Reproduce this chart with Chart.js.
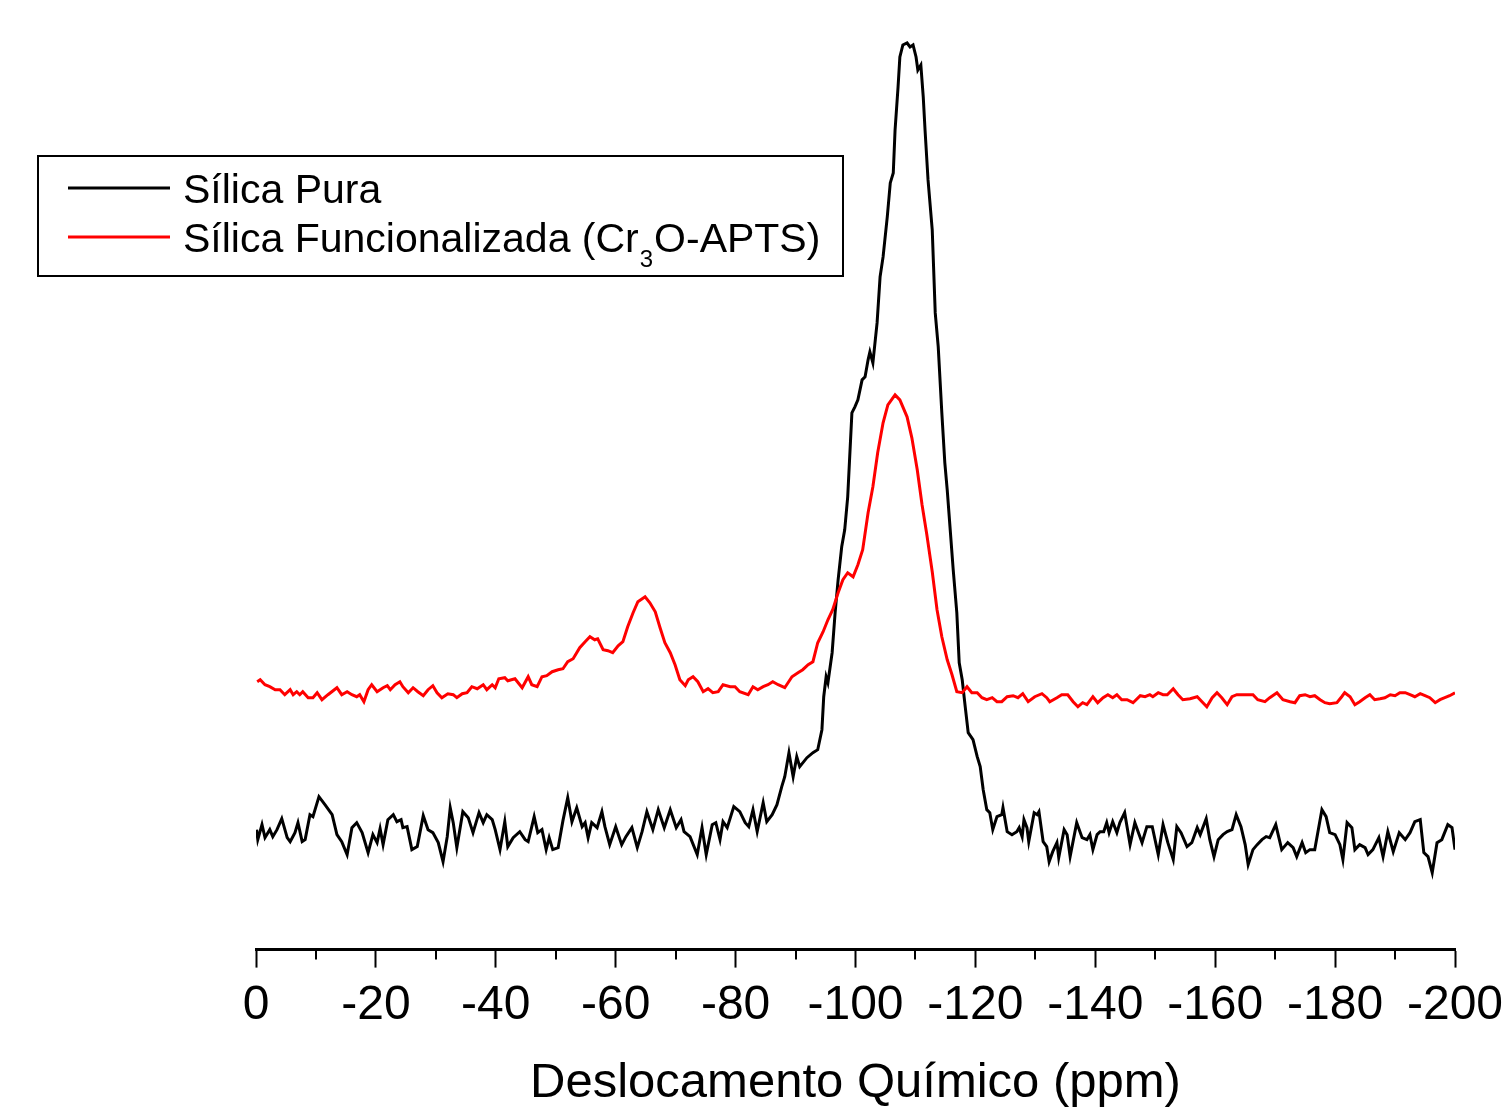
<!DOCTYPE html>
<html>
<head>
<meta charset="utf-8">
<script src="https://cdn.jsdelivr.net/npm/chart.js@4/dist/chart.umd.min.js"></script>
<style>
  html, body { margin: 0; padding: 0; background: #fff; }
  canvas { display: block; }
</style>
</head>
<body>
<canvas id="nmr-chart" width="1505" height="1113"></canvas>
<script>
const pureSilica = [
    [-0.1,12.0],[-0.3,11.0],[-1.0,12.5],[-1.5,11.2],[-2.3,12.0],[-2.8,11.3],[-3.5,12.0],[-4.3,13.1],[-5.2,11.2],[-5.7,10.8],
    [-6.5,11.7],[-7.0,12.7],[-7.7,10.8],[-8.2,11.0],[-9.0,13.5],[-9.5,13.3],[-10.5,15.3],[-11.5,14.5],[-12.7,13.5],[-13.5,11.5],
    [-14.3,10.8],[-15.2,9.5],[-16.0,12.2],[-16.8,12.7],[-17.7,11.7],[-18.7,9.7],[-19.5,11.5],[-20.2,10.7],[-20.7,12.1],[-21.2,10.5],
    [-22.0,13.0],[-22.9,13.5],[-23.5,12.8],[-24.2,13.0],[-24.5,12.2],[-25.2,12.3],[-26.0,10.0],[-26.9,10.3],[-27.9,13.4],[-28.7,12.0],
    [-29.5,11.7],[-30.4,10.7],[-31.2,8.8],[-31.9,11.3],[-32.4,14.2],[-32.9,12.7],[-33.5,10.2],[-34.5,13.8],[-35.4,13.2],[-36.2,11.7],
    [-37.2,13.7],[-37.9,12.7],[-38.5,13.5],[-39.4,13.0],[-39.9,12.0],[-40.7,10.0],[-41.5,12.8],[-42.0,10.3],[-42.9,11.2],[-44.0,11.8],
    [-44.9,11.0],[-45.4,10.8],[-46.4,13.3],[-47.0,11.7],[-47.7,12.0],[-48.4,10.0],[-48.9,11.2],[-49.5,10.0],[-50.4,10.2],[-51.2,12.9],
    [-52.0,15.2],[-52.7,12.8],[-53.5,14.2],[-54.4,12.3],[-54.9,12.7],[-55.4,11.2],[-56.0,12.7],[-56.9,12.2],[-57.7,13.8],[-58.2,12.3],
    [-59.0,10.5],[-60.0,12.3],[-61.0,10.5],[-61.7,11.3],[-62.7,12.2],[-63.6,10.2],[-64.4,11.8],[-65.2,13.8],[-66.2,12.0],[-67.1,14.0],
    [-68.1,12.2],[-69.1,14.0],[-70.1,12.2],[-70.9,13.0],[-71.4,11.8],[-72.4,11.3],[-73.6,9.5],[-74.4,12.2],[-75.1,9.5],[-76.1,12.5],
    [-76.7,12.7],[-77.4,11.0],[-77.9,12.8],[-78.6,12.2],[-79.7,14.3],[-80.7,13.8],[-81.6,12.7],[-82.2,12.3],[-82.9,14.0],[-83.6,11.8],
    [-84.6,14.7],[-85.2,12.8],[-86.1,13.5],[-86.9,14.5],[-87.7,16.3],[-88.2,17.3],[-88.9,19.7],[-89.6,17.3],[-90.2,19.3],[-90.7,18.3],
    [-91.9,19.2],[-92.9,19.7],[-93.7,20.0],[-94.4,22.0],[-94.7,25.3],[-95.1,27.3],[-95.4,26.7],[-96.1,29.7],[-96.6,33.7],[-97.1,37.0],
    [-97.7,40.3],[-98.2,42.0],[-98.7,45.3],[-99.4,53.7],[-99.9,54.3],[-100.4,55.0],[-101.1,57.0],[-101.6,57.3],[-102.1,59.0],[-102.4,59.8],
    [-102.9,58.7],[-103.6,62.7],[-104.1,67.3],[-104.6,69.3],[-105.3,73.3],[-105.8,76.7],[-106.3,77.7],[-106.6,82.0],[-107.1,86.3],[-107.4,89.3],
    [-107.9,90.5],[-108.6,90.7],[-109.1,90.3],[-109.6,90.5],[-110.1,89.3],[-110.4,88.0],[-110.9,88.5],[-111.3,85.3],[-111.6,82.0],[-112.1,77.0],
    [-112.8,72.0],[-113.3,63.7],[-113.8,60.3],[-114.4,53.7],[-114.9,48.7],[-115.3,46.0],[-115.8,42.0],[-116.3,38.0],[-116.9,33.7],[-117.3,28.7],
    [-117.8,27.0],[-118.3,24.3],[-118.8,21.7],[-119.6,21.0],[-120.3,19.3],[-120.8,18.3],[-121.3,16.0],[-121.9,14.0],[-122.4,13.7],[-122.9,12.0],
    [-123.6,13.3],[-124.4,13.5],[-124.6,14.2],[-125.3,11.8],[-126.1,11.5],[-126.9,11.8],[-127.3,12.2],[-127.8,11.3],[-128.1,13.0],[-128.6,12.2],
    [-128.9,10.8],[-129.8,13.7],[-130.3,13.5],[-130.6,13.8],[-131.3,10.8],[-131.9,10.3],[-132.3,8.8],[-132.9,9.8],[-133.6,10.7],[-133.9,9.2],
    [-134.8,12.0],[-135.3,11.5],[-135.8,9.3],[-136.9,12.7],[-137.8,11.2],[-138.6,11.0],[-139.1,11.5],[-139.6,10.0],[-140.3,11.5],[-140.8,11.8],
    [-141.4,11.8],[-141.9,12.7],[-142.3,11.7],[-142.9,12.8],[-143.6,11.7],[-144.1,12.7],[-144.9,13.7],[-145.8,10.5],[-146.6,12.7],[-147.8,10.7],
    [-148.6,12.3],[-149.5,12.3],[-150.5,9.5],[-151.3,12.5],[-152.1,10.7],[-153.0,9.0],[-153.6,12.3],[-154.3,11.7],[-155.3,10.3],[-156.1,10.7],
    [-157.0,12.2],[-157.5,11.5],[-158.5,13.1],[-159.1,11.0],[-159.8,9.3],[-160.5,11.0],[-161.3,11.5],[-162.0,11.8],[-162.8,12.0],[-163.5,13.5],
    [-164.3,12.3],[-165.0,10.5],[-165.5,8.5],[-166.3,10.0],[-167.0,10.5],[-167.8,11.0],[-168.5,11.3],[-169.1,11.2],[-170.1,12.5],[-171.1,10.0],
    [-172.1,10.7],[-173.0,10.2],[-173.6,9.3],[-174.5,10.7],[-175.1,9.7],[-175.8,10.0],[-176.6,10.0],[-177.8,14.0],[-178.5,13.3],[-179.1,11.7],
    [-180.0,11.5],[-180.8,10.5],[-181.3,9.0],[-182.0,12.7],[-182.8,12.2],[-183.3,10.0],[-184.1,10.5],[-185.0,10.2],[-185.5,9.5],[-186.3,10.0],
    [-187.3,11.2],[-188.0,9.3],[-188.8,11.8],[-189.7,9.8],[-190.7,11.7],[-191.7,11.0],[-192.5,11.7],[-193.3,12.8],[-194.2,13.0],[-194.8,9.7],
    [-195.5,9.3],[-196.2,7.7],[-197.0,10.7],[-197.8,11.0],[-198.8,12.5],[-199.5,12.2],[-200.0,10.0]
];

const functionalizedSilica = [
    [-0.2,26.8],[-0.7,27.0],[-1.5,26.5],[-2.3,26.3],[-3.2,26.0],[-4.0,26.0],[-4.8,25.5],[-5.7,26.0],[-6.2,25.5],[-6.8,25.8],
    [-7.3,25.5],[-7.8,25.8],[-8.7,25.2],[-9.5,25.2],[-10.2,25.7],[-11.0,25.0],[-12.0,25.5],[-13.5,26.2],[-14.3,25.5],[-15.2,25.8],
    [-16.0,25.5],[-16.8,25.3],[-17.3,25.5],[-18.0,24.8],[-18.7,26.0],[-19.3,26.5],[-20.2,25.8],[-21.2,26.2],[-21.9,26.4],[-22.4,26.0],
    [-23.2,26.5],[-24.0,26.8],[-24.5,26.3],[-25.4,25.7],[-26.2,26.2],[-27.0,25.8],[-27.9,25.4],[-28.7,26.0],[-29.5,26.4],[-30.2,25.7],
    [-31.0,25.2],[-32.0,25.6],[-32.9,25.5],[-33.5,25.2],[-34.4,25.6],[-35.2,25.7],[-36.0,26.3],[-36.9,26.1],[-37.9,26.5],[-38.5,26.0],
    [-39.4,26.5],[-39.9,26.2],[-40.5,27.1],[-41.5,27.2],[-42.0,26.9],[-43.2,27.1],[-44.4,26.2],[-45.4,27.3],[-46.0,26.5],[-46.9,26.3],
    [-47.7,27.3],[-48.5,27.4],[-49.4,27.8],[-50.4,28.0],[-51.2,28.1],[-52.0,28.8],[-52.9,29.1],[-54.0,30.2],[-54.9,30.8],[-55.7,31.3],
    [-56.5,31.0],[-57.0,31.1],[-57.9,30.0],[-58.7,29.9],[-59.5,29.7],[-60.4,30.4],[-61.2,30.8],[-62.0,32.3],[-62.9,33.7],[-63.7,34.8],
    [-64.9,35.3],[-65.7,34.7],[-66.6,33.8],[-67.4,32.2],[-68.2,30.7],[-69.1,29.7],[-69.9,28.5],[-70.7,27.0],[-71.6,26.4],[-72.1,27.0],
    [-72.9,27.3],[-73.7,26.8],[-74.6,25.8],[-75.4,26.1],[-76.2,25.7],[-77.1,25.8],[-77.9,26.5],[-79.1,26.3],[-79.9,26.3],[-80.7,25.8],
    [-82.1,25.5],[-82.9,26.3],[-83.7,26.0],[-84.6,26.3],[-85.4,26.5],[-86.2,26.8],[-87.1,26.5],[-88.2,26.2],[-89.4,27.3],[-90.4,27.7],
    [-91.2,28.0],[-92.1,28.5],[-92.9,28.8],[-93.7,30.7],[-94.6,31.8],[-95.4,33.0],[-96.2,34.0],[-97.1,35.7],[-97.9,37.0],[-98.7,37.7],
    [-99.6,37.3],[-100.4,38.5],[-101.2,40.0],[-102.1,43.7],[-102.9,46.3],[-103.7,49.7],[-104.6,52.7],[-105.4,54.5],[-106.6,55.5],[-107.4,55.0],
    [-108.6,53.3],[-109.4,51.2],[-110.3,48.0],[-111.1,44.5],[-111.9,41.5],[-112.8,37.8],[-113.6,34.0],[-114.4,31.3],[-115.3,29.0],[-116.1,27.5],
    [-116.9,25.8],[-117.8,25.7],[-118.6,26.3],[-119.4,25.7],[-120.3,25.7],[-121.1,25.2],[-121.9,25.0],[-122.8,25.2],[-123.6,24.8],[-124.4,24.8],
    [-125.3,25.3],[-126.3,25.4],[-127.1,25.2],[-127.9,25.6],[-128.8,24.8],[-129.9,25.3],[-131.1,25.6],[-131.9,25.2],[-132.4,24.8],[-133.6,25.2],
    [-134.4,25.5],[-135.4,25.5],[-136.3,24.8],[-137.1,24.3],[-137.9,24.7],[-138.6,24.5],[-139.6,25.3],[-140.4,24.7],[-141.3,25.2],[-142.1,25.5],
    [-142.9,25.2],[-143.6,25.5],[-144.4,25.0],[-145.3,25.0],[-146.3,24.7],[-147.5,25.4],[-148.3,25.3],[-149.1,25.5],[-149.6,25.3],[-150.5,25.7],
    [-151.3,25.5],[-152.0,25.5],[-153.0,26.1],[-153.8,25.5],[-154.6,25.0],[-155.8,25.1],[-157.0,25.3],[-157.8,24.8],[-158.6,24.3],[-159.5,25.2],
    [-160.3,25.7],[-161.1,25.2],[-162.0,24.5],[-162.8,25.3],[-163.6,25.5],[-164.6,25.5],[-165.5,25.5],[-166.3,25.5],[-167.1,25.0],[-168.3,24.8],
    [-169.1,25.2],[-170.3,25.7],[-171.3,25.0],[-172.5,24.8],[-173.3,24.7],[-174.1,25.4],[-175.0,25.5],[-175.8,25.3],[-176.6,25.4],[-177.5,25.0],
    [-178.3,24.7],[-179.1,24.6],[-180.3,24.7],[-181.1,25.3],[-181.6,25.7],[-182.5,25.3],[-183.3,24.5],[-184.1,24.8],[-185.0,25.2],[-185.8,25.5],
    [-186.6,25.0],[-187.5,25.1],[-188.3,25.2],[-189.2,25.5],[-190.0,25.4],[-190.8,25.7],[-191.7,25.7],[-192.5,25.5],[-193.3,25.3],[-194.2,25.6],
    [-195.0,25.4],[-195.8,25.2],[-196.7,24.7],[-197.5,25.0],[-198.3,25.2],[-199.1,25.4],[-200.0,25.7]
];

const minorTicks = [-10, -30, -50, -70, -90, -110, -130, -150, -170, -190];

const fontFamily = "'Liberation Sans', Arial, sans-serif";

// marcas menores do eixo x e legenda com subscrito
const extrasPlugin = {
    id: 'extras',
    afterDraw(chart) {
        const ctx = chart.ctx;
        const xScale = chart.scales.x;
        ctx.save();
        ctx.strokeStyle = '#000';
        ctx.lineWidth = 2;
        minorTicks.forEach(v => {
            const px = Math.round(xScale.getPixelForValue(v));
            ctx.beginPath();
            ctx.moveTo(px, xScale.top);
            ctx.lineTo(px, xScale.top + 10);
            ctx.stroke();
        });

        // legenda
        ctx.lineWidth = 2;
        ctx.strokeRect(38, 156, 805, 120);
        ctx.lineWidth = 3;
        ctx.beginPath();
        ctx.moveTo(68, 188);
        ctx.lineTo(170, 188);
        ctx.strokeStyle = '#000';
        ctx.stroke();
        ctx.beginPath();
        ctx.moveTo(68, 237);
        ctx.lineTo(170, 237);
        ctx.strokeStyle = '#ff0000';
        ctx.stroke();

        ctx.fillStyle = '#000';
        ctx.textBaseline = 'alphabetic';
        ctx.font = '41px ' + fontFamily;
        ctx.fillText('Sílica Pura', 183, 203);
        let x = 183;
        const part1 = 'Sílica Funcionalizada (Cr';
        ctx.fillText(part1, x, 252);
        x += ctx.measureText(part1).width + 1;
        ctx.font = '24px ' + fontFamily;
        ctx.fillText('3', x, 267);
        x += ctx.measureText('3').width + 1;
        ctx.font = '41px ' + fontFamily;
        ctx.fillText('O-APTS)', x, 252);
        ctx.restore();
    }
};

const chart = new Chart(document.getElementById('nmr-chart'), {
    type: 'line',
    data: {
        datasets: [
            {
                label: 'Sílica Pura',
                data: pureSilica.map(([x, y]) => ({ x, y })),
                borderColor: '#000000',
                borderWidth: 3,
                pointRadius: 0,
                tension: 0,
                order: 1
            },
            {
                label: 'Sílica Funcionalizada (Cr3O-APTS)',
                data: functionalizedSilica.map(([x, y]) => ({ x, y })),
                borderColor: '#ff0000',
                borderWidth: 3,
                pointRadius: 0,
                tension: 0,
                order: 0
            }
        ]
    },
    options: {
        responsive: false,
        devicePixelRatio: 1,
        animation: false,
        layout: {
            padding: { top: 40, left: 256, right: 50, bottom: 0 }
        },
        plugins: {
            legend: { display: false },
            tooltip: { enabled: false }
        },
        scales: {
            x: {
                type: 'linear',
                min: -200,
                max: 0,
                reverse: true,
                afterFit(scale) {
                    // o rótulo -200 pode passar da área do gráfico
                    scale.paddingLeft = 0;
                    scale.paddingRight = 0;
                },
                ticks: {
                    stepSize: 20,
                    color: '#000',
                    padding: 9,
                    maxRotation: 0,
                    autoSkip: false,
                    font: { size: 48, family: fontFamily }
                },
                grid: {
                    drawOnChartArea: false,
                    drawTicks: true,
                    tickLength: 18,
                    tickWidth: 2,
                    tickColor: '#000'
                },
                border: { display: true, color: '#000', width: 3 },
                title: {
                    display: true,
                    text: 'Deslocamento Químico (ppm)',
                    color: '#000',
                    font: { size: 49, family: fontFamily },
                    padding: { top: 11, bottom: 0 }
                }
            },
            y: {
                display: false,
                min: 0,
                max: 91
            }
        }
    },
    plugins: [extrasPlugin]
});
</script>
</body>
</html>
